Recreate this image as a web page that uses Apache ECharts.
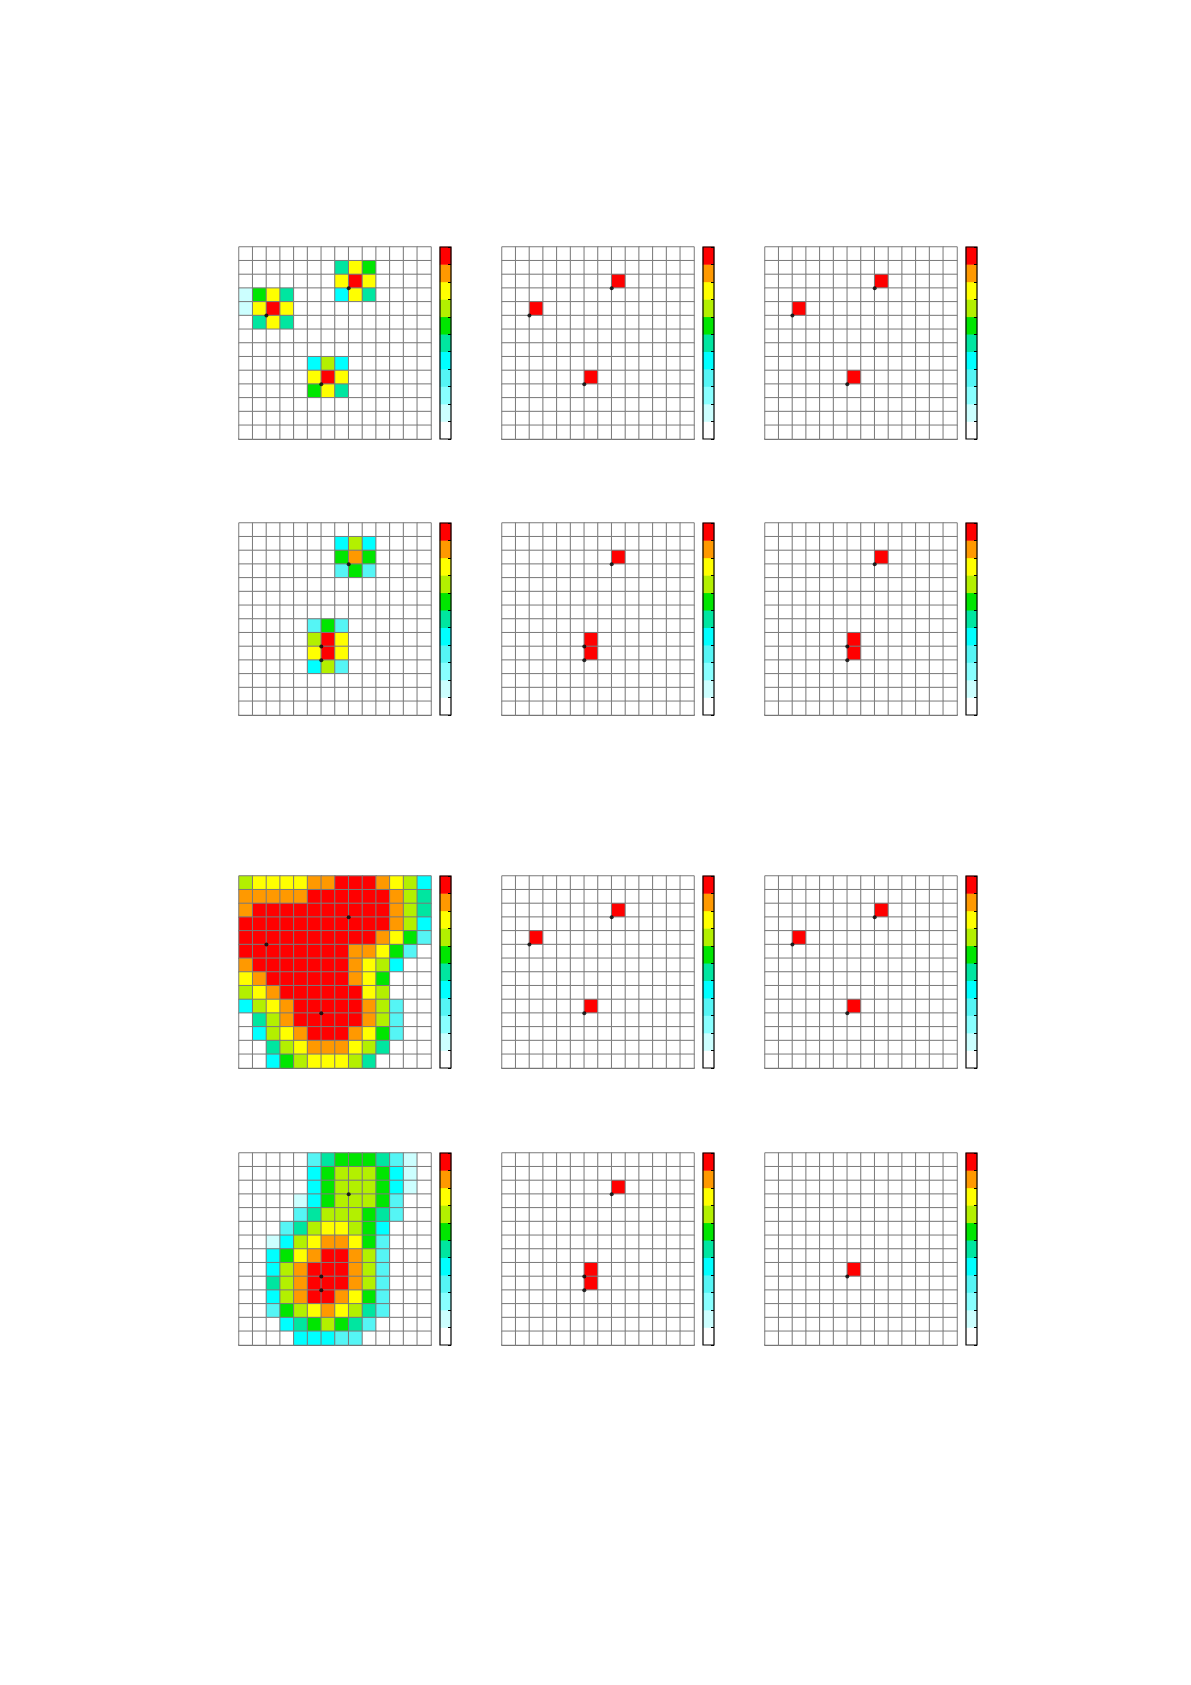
<!DOCTYPE html>
<html><head><meta charset="utf-8">
<script src="https://cdn.jsdelivr.net/npm/echarts@6/dist/echarts.min.js"></script>
<style>html,body{margin:0;padding:0;background:#fff}#c{width:1191px;height:1685px}</style>
</head><body><div id="c"></div>
<script>
// level palette (0..10) for colour bars
const levelColors = ['#ffffff','#ccffff','#88ffff','#55f5f5','#00ffff','#00e6a0','#00e600','#b3f000','#ffff00','#ff9900','#ff0000'];
const N = 14;
// left-column fields, rows top->bottom, 14 columns each
const field1 = [
[0,0,0,0,0,0,0,0,0,0,0,0,0,0],
[0,0,0,0,0,0,0,5,8,6,0,0,0,0],
[0,0,0,0,0,0,0,8,10,8,0,0,0,0],
[1,6,8,5,0,0,0,4,8,5,0,0,0,0],
[1,8,10,8,0,0,0,0,0,0,0,0,0,0],
[0,5,8,5,0,0,0,0,0,0,0,0,0,0],
[0,0,0,0,0,0,0,0,0,0,0,0,0,0],
[0,0,0,0,0,0,0,0,0,0,0,0,0,0],
[0,0,0,0,0,4,7,4,0,0,0,0,0,0],
[0,0,0,0,0,8,10,8,0,0,0,0,0,0],
[0,0,0,0,0,6,8,5,0,0,0,0,0,0],
[0,0,0,0,0,0,0,0,0,0,0,0,0,0],
[0,0,0,0,0,0,0,0,0,0,0,0,0,0],
[0,0,0,0,0,0,0,0,0,0,0,0,0,0]];
const field2 = [
[0,0,0,0,0,0,0,0,0,0,0,0,0,0],
[0,0,0,0,0,0,0,4,7,4,0,0,0,0],
[0,0,0,0,0,0,0,6,9,6,0,0,0,0],
[0,0,0,0,0,0,0,3,6,3,0,0,0,0],
[0,0,0,0,0,0,0,0,0,0,0,0,0,0],
[0,0,0,0,0,0,0,0,0,0,0,0,0,0],
[0,0,0,0,0,0,0,0,0,0,0,0,0,0],
[0,0,0,0,0,3,6,3,0,0,0,0,0,0],
[0,0,0,0,0,7,10,8,0,0,0,0,0,0],
[0,0,0,0,0,8,10,8,0,0,0,0,0,0],
[0,0,0,0,0,4,7,3,0,0,0,0,0,0],
[0,0,0,0,0,0,0,0,0,0,0,0,0,0],
[0,0,0,0,0,0,0,0,0,0,0,0,0,0],
[0,0,0,0,0,0,0,0,0,0,0,0,0,0]];
const field3 = [
[7,8,8,8,8,9,9,10,10,10,9,8,7,4],
[9,9,9,9,9,10,10,10,10,10,10,9,7,5],
[9,10,10,10,10,10,10,10,10,10,10,9,7,5],
[10,10,10,10,10,10,10,10,10,10,10,9,7,4],
[10,10,10,10,10,10,10,10,10,10,9,8,6,3],
[10,10,10,10,10,10,10,10,9,9,8,6,3,0],
[9,10,10,10,10,10,10,10,9,8,7,4,0,0],
[8,9,10,10,10,10,10,10,9,8,6,0,0,0],
[7,8,9,10,10,10,10,10,10,8,7,0,0,0],
[4,7,8,9,10,10,10,10,10,9,7,3,0,0],
[0,5,7,9,10,10,10,10,10,9,7,3,0,0],
[0,4,7,8,9,10,10,10,9,8,6,3,0,0],
[0,0,5,7,8,9,9,9,8,7,5,0,0,0],
[0,0,4,6,7,8,8,8,7,5,0,0,0,0]];
const field4 = [
[0,0,0,0,0,3,5,6,6,6,5,3,1,0],
[0,0,0,0,0,4,6,7,7,7,6,4,1,0],
[0,0,0,0,0,4,6,7,7,7,6,4,1,0],
[0,0,0,0,1,4,6,7,7,7,6,3,0,0],
[0,0,0,0,3,5,7,7,7,6,5,3,0,0],
[0,0,0,3,5,7,8,8,7,6,4,0,0,0],
[0,0,1,4,7,8,9,9,8,6,3,0,0,0],
[0,0,4,6,8,9,10,10,9,7,3,0,0,0],
[0,0,4,7,9,10,10,10,9,7,3,0,0,0],
[0,0,5,7,9,10,10,10,9,7,3,0,0,0],
[0,0,4,7,9,10,10,9,8,6,3,0,0,0],
[0,0,3,6,7,8,9,8,7,5,3,0,0,0],
[0,0,0,4,5,6,7,6,5,3,0,0,0,0],
[0,0,0,0,4,4,4,3,3,0,0,0,0,0]];
// red cells [col,row] in middle and right columns
const midCells = [
 [[8,2],[2,4],[6,9]],
 [[8,2],[6,8],[6,9]],
 [[8,2],[2,4],[6,9]],
 [[8,2],[6,8],[6,9]]];
const rightCells = [
 [[8,2],[2,4],[6,9]],
 [[8,2],[6,8],[6,9]],
 [[8,2],[2,4],[6,9]],
 [[6,8]]];
// marker points (grid corner coords x, y-from-top) per row
const markers = [
 [[2,5],[8,3],[6,10]],
 [[8,3],[6,9],[6,10]],
 [[2,5],[8,3],[6,10]],
 [[8,3],[6,9],[6,10]]];

const colX = [239, 502, 765];
const rowY = [247, 523, 876, 1153];
const S = 192, CBW = 11, CBGAP = 201;
const cats = Array.from({length:N},(_,i)=>i);
const lv = Array.from({length:11},(_,i)=>i);

function cellsToMatrix(cells){
  const m = Array.from({length:N},()=>Array(N).fill(0));
  cells.forEach(([c,r])=>{m[r][c]=10;});
  return m;
}
const fields = [field1, field2, field3, field4];
const grid=[], xAxis=[], yAxis=[], series=[], heatIdx=[], graphic=[];
function addPanel(mat, x, y, mk){
  let gi = grid.length;
  grid.push({left:x, top:y, width:S, height:S});
  xAxis.push({type:'category', data:cats, gridIndex:gi, axisLabel:{show:false}, axisTick:{show:false},
    axisLine:{show:true, lineStyle:{color:'#000', width:1.5}}, splitLine:{show:false}});
  yAxis.push({type:'category', data:cats, gridIndex:gi, inverse:true, axisLabel:{show:false}, axisTick:{show:false},
    axisLine:{show:false}});
  const data=[];
  mat.forEach((row,r)=>row.forEach((v,c)=>data.push([c,r,v])));
  heatIdx.push(series.length);
  series.push({type:'heatmap', xAxisIndex:gi, yAxisIndex:gi, data,
    itemStyle:{borderColor:'#7a7a7a', borderWidth:1}, emphasis:{disabled:true}});
  gi = grid.length;
  grid.push({left:x, top:y, width:S, height:S});
  xAxis.push({type:'value', min:0, max:N, gridIndex:gi, show:false});
  yAxis.push({type:'value', min:0, max:N, inverse:true, gridIndex:gi, show:false});
  series.push({type:'scatter', xAxisIndex:gi, yAxisIndex:gi, data:mk, symbol:'circle', symbolSize:4,
    itemStyle:{color:'#000'}, z:5, silent:true});
  gi = grid.length;
  grid.push({left:x+CBGAP, top:y, width:CBW, height:S});
  xAxis.push({type:'category', data:[0], gridIndex:gi, show:false});
  yAxis.push({type:'category', data:lv, gridIndex:gi, position:'right', axisLabel:{show:false},
    axisLine:{show:false}, axisTick:{show:true, inside:true, length:3, lineStyle:{color:'#000'}}, z:10});
  heatIdx.push(series.length);
  series.push({type:'heatmap', xAxisIndex:gi, yAxisIndex:gi, data:lv.map(i=>[0,i,i]),
    itemStyle:{borderWidth:0}, emphasis:{disabled:true}});
  graphic.push({type:'rect', z:100, silent:true, shape:{x:x+CBGAP, y:y, width:CBW, height:S},
    style:{fill:null, stroke:'#000', lineWidth:1.2}});
}
for(let r=0;r<4;r++){
  addPanel(fields[r], colX[0], rowY[r], markers[r]);
  addPanel(cellsToMatrix(midCells[r]), colX[1], rowY[r], markers[r]);
  addPanel(cellsToMatrix(rightCells[r]), colX[2], rowY[r], rightCells[r].map(([c,r2])=>[c,r2+1]));
}
const chart = echarts.init(document.getElementById('c'));
chart.setOption({
  animation:false, backgroundColor:'#fff',
  grid, xAxis, yAxis, series, graphic,
  visualMap:{type:'piecewise', show:false, seriesIndex:heatIdx, dimension:2,
    pieces: levelColors.map((c,i)=>({value:i, color:c}))}
});
</script></body></html>
